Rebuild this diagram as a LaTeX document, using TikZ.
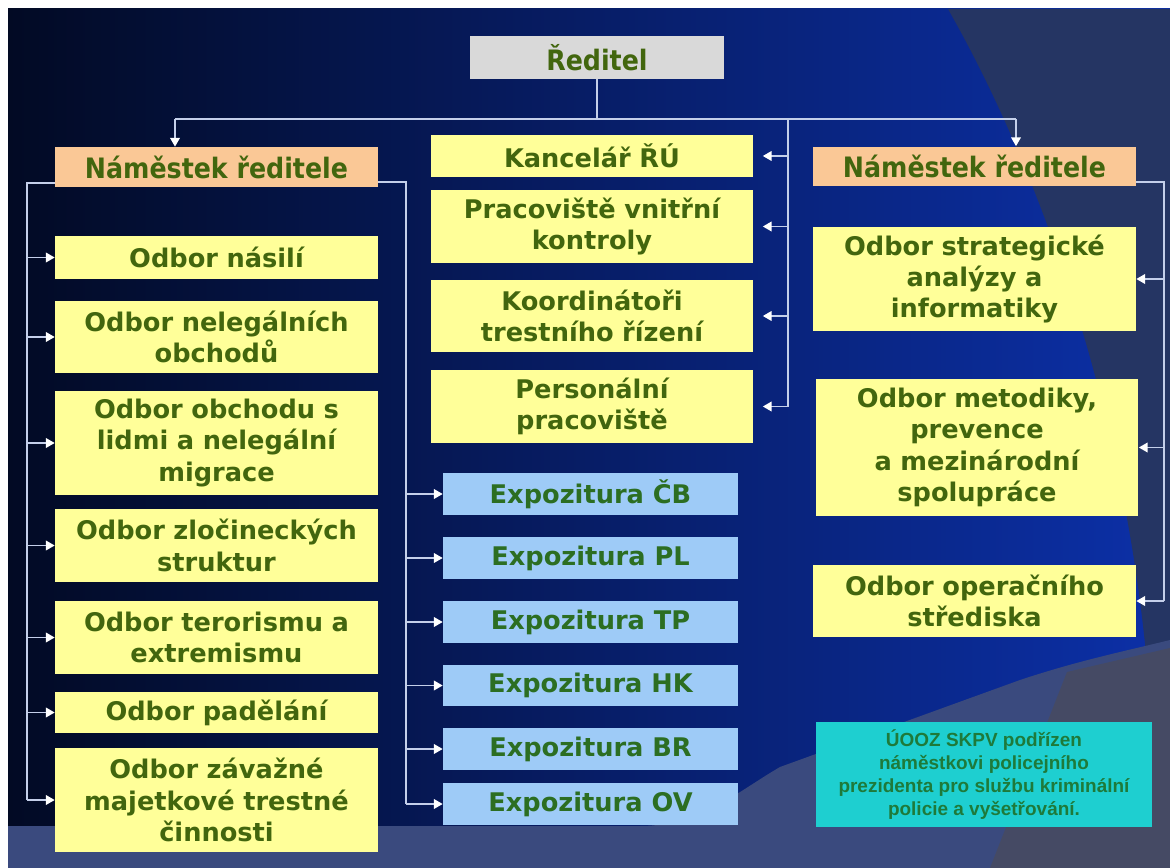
\documentclass[tikz,border=0pt]{standalone}
\usepackage{fontspec}
\setmainfont{DejaVu Sans}
\newfontfamily\condfont{DejaVu Sans Condensed}
\newfontfamily\notefont{Liberation Sans}
\usetikzlibrary{arrows.meta,calc}

\definecolor{bgdark}{HTML}{020A24}
\definecolor{bgblue}{HTML}{0C30A8}
\definecolor{bgright}{HTML}{253563}
\definecolor{bgbottom}{HTML}{3A4A7E}
\definecolor{bggrey}{HTML}{454A64}
\definecolor{linecol}{HTML}{C4CFEA}
\definecolor{boxyellow}{HTML}{FFFF99}
\definecolor{boxorange}{HTML}{FAC896}
\definecolor{boxgrey}{HTML}{D9D9D9}
\definecolor{boxblue}{HTML}{9ECBF7}
\definecolor{txtolive}{HTML}{42660E}
\definecolor{txtgreen}{HTML}{2C6E22}
\definecolor{notecyan}{HTML}{1ECFD0}
\definecolor{notetext}{HTML}{1E7A3A}

\begin{document}
\begin{tikzpicture}[x=0.02cm, y=-0.02cm,
	box/.style={inner sep=2pt, align=center, text=txtolive, font=\bfseries\fontsize{14.6}{17.8}\selectfont},
	ybox/.style={box, fill=boxyellow, minimum width=6.46cm, text width=6.3cm},
	bbox/.style={box, fill=boxblue, text=txtgreen, minimum width=5.9cm, minimum height=0.84cm},
	obox/.style={box, fill=boxorange, minimum width=6.46cm, minimum height=0.8cm, font=\condfont\bfseries\fontsize{16}{19}\selectfont},
	gbox/.style={box, fill=boxgrey, minimum width=5.08cm, minimum height=0.86cm, font=\condfont\bfseries\fontsize{16}{19}\selectfont},
	note/.style={fill=notecyan, text=notetext, align=center, minimum width=6.72cm, minimum height=2.1cm, font=\notefont\bfseries\fontsize{10.8}{13.2}\selectfont},
	conn/.style={draw=linecol, line width=0.9pt},
	arr/.style={conn, -{Triangle[length=5pt, width=5.5pt, color=white]}}]
	\useasboundingbox (0,0) rectangle (1170,868);
	\fill[white] (0,0) rectangle (1170,868);
	\shade[left color=bgdark, right color=bgblue] (8,9) rectangle (1170,868);
	\fill[bgright] (948,9) .. controls (1040,170) and (1130,420) .. (1150,700) -- (1170,700) -- (1170,9) -- cycle;
	\fill[bgbottom] (8,826) -- (640,826) .. controls (700,826) and (740,790) .. (780,767) -- (1020,680) .. controls (1080,660) and (1130,650) .. (1170,640) -- (1170,868) -- (8,868) -- cycle;
	\fill[bggrey] (1067,672) -- (1170,648) -- (1170,868) -- (990,868) -- cycle;

	\node[gbox] (red) at (597,57.5) {Ředitel};
	\node[obox] (nl) at (216.5,167) {Náměstek ředitele};
	\node[obox] (nr) at (974.5,166.5) {Náměstek ředitele};

	\node[ybox, minimum height=0.84cm] (kanc) at (592,156) {Kancelář ŘÚ};
	\node[ybox, minimum height=1.46cm] (prac) at (592,226.5) {Pracoviště vnitřní\\kontroly};
	\node[ybox, minimum height=1.44cm] (koord) at (592,316) {Koordinátoři\\trestního řízení};
	\node[ybox, minimum height=1.46cm] (pers) at (592,406.5) {Personální\\pracoviště};

	\node[ybox, minimum height=0.86cm] (nas) at (216.5,257.5) {Odbor násilí};
	\node[ybox, minimum height=1.44cm] (nel) at (216.5,337) {Odbor nelegálních\\obchodů};
	\node[ybox, minimum height=2.08cm] (lid) at (216.5,443) {Odbor obchodu s\\lidmi a nelegální\\migrace};
	\node[ybox, minimum height=1.46cm] (zlo) at (216.5,545.5) {Odbor zločineckých\\struktur};
	\node[ybox, minimum height=1.46cm] (ter) at (216.5,637.5) {Odbor terorismu a\\extremismu};
	\node[ybox, minimum height=0.82cm] (pad) at (216.5,712.5) {Odbor padělání};
	\node[ybox, minimum height=2.08cm] (zav) at (216.5,800) {Odbor závažné\\majetkové trestné\\činnosti};

	\foreach \y/\n/\t in {494/cb/ČB, 558/pl/PL, 622/tp/TP, 685.5/hk/HK, 749/br/BR, 804/ov/OV}
		\node[bbox] (\n) at (590.5,\y) {Expozitura \t};

	\node[ybox, minimum height=2.08cm] (str) at (974.5,279) {Odbor strategické\\analýzy a\\informatiky};
	\node[ybox, minimum height=2.74cm] (met) at (977,447.5) {Odbor metodiky,\\prevence\\a mezinárodní\\spolupráce};
	\node[ybox, minimum height=1.44cm] (ope) at (974.5,601) {Odbor operačního\\střediska};
	\node[note] (pozn) at (984,774.5) {ÚOOZ SKPV podřízen\\náměstkovi policejního\\prezidenta pro službu kriminální\\policie a vyšetřování.};

	\coordinate (tl) at (175,119);
	\coordinate (tr) at (1016,119);
	\coordinate (tm) at (788,119);
	\coordinate (ls) at (27,183);
	\coordinate (ms) at (406,182);
	\coordinate (rs) at (1164,182);

	\draw[conn] (red) -- (red |- tl);
	\draw[conn] (tl) -- (tr);
	\draw[arr] (tl) -- (tl |- nl.north);
	\draw[arr] (tr) -- (tr |- nr.north);
	\draw[conn] (tm) -- (tm |- pers.east);
	\foreach \n in {kanc,prac,koord,pers}
		\draw[arr, shorten >=0.18cm] (tm |- \n.east) -- (\n.east);
	\draw[conn] (nl.west |- ls) -- (ls) -- (ls |- zav.west);
	\foreach \n in {nas,nel,lid,zlo,ter,pad,zav}
		\draw[arr] (ls |- \n.west) -- (\n.west);
	\draw[conn] (nl.east |- ms) -- (ms) -- (ms |- ov.west);
	\foreach \n in {cb,pl,tp,hk,br,ov}
		\draw[arr] (ms |- \n.west) -- (\n.west);
	\draw[conn] (nr.east |- rs) -- (rs) -- (rs |- ope.east);
	\foreach \n in {str,met,ope}
		\draw[arr] (rs |- \n.east) -- (\n.east);
\end{tikzpicture}
\end{document}
